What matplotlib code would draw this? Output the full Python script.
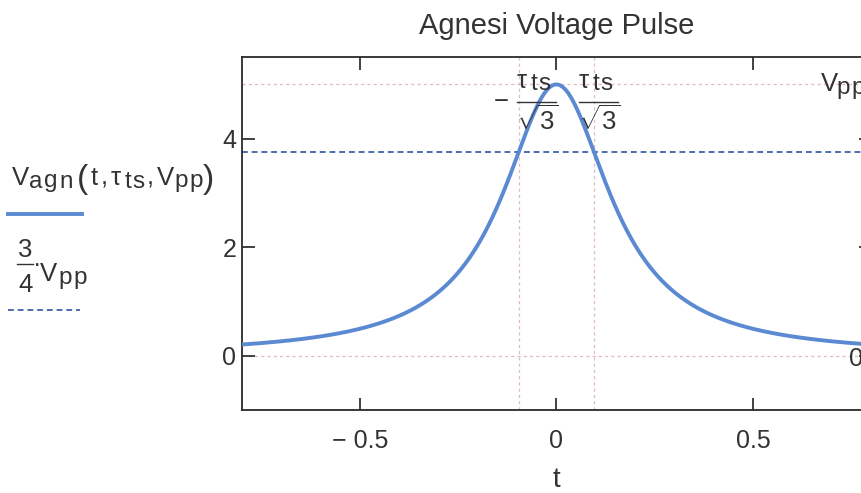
import numpy as np
import matplotlib
matplotlib.use("Agg")
import matplotlib.pyplot as plt
from matplotlib.lines import Line2D

plt.rcParams["font.family"] = ["Liberation Sans", "DejaVu Sans"]
plt.rcParams["mathtext.fontset"] = "custom"
plt.rcParams["mathtext.rm"] = "Liberation Sans"
plt.rcParams["mathtext.it"] = "Liberation Sans"
plt.rcParams["mathtext.bf"] = "Liberation Sans:bold"
plt.rcParams["mathtext.sf"] = "Liberation Sans"

# Pulse parameters
V_pp = 5.0
tau_ts = 0.166
t_min, t_max = -0.8, 0.8
y_min, y_max = -1.0, 5.5

x_ticks = [-0.5, 0.0, 0.5]
x_tick_labels = ["\u2212 0.5", "0", "0.5"]
y_ticks = [0, 2, 4]
y_tick_labels = ["0", "2", "4"]

# Agnesi pulse: V_agn(t, tau, Vpp) = Vpp / (1 + (t/tau)^2)
t = np.linspace(t_min, t_max, 801)
v_agn = V_pp / (1.0 + (t / tau_ts) ** 2)
v_level = np.full_like(t, 0.75 * V_pp)
t_mark = tau_ts / np.sqrt(3.0)

TEXT = "#333333"
CURVE = "#5b8ad2"
LEVEL = "#4c6cb0"
MARK = "#dfbcc0"
MAIN = 18.5   # main text size
SUB = 17.5    # subscript size

W, H = 861, 493
fig = plt.figure(figsize=(W / 100, H / 100), dpi=100)
fig.patch.set_facecolor("white")
renderer = fig.canvas.get_renderer()

ax = fig.add_axes([241.7 / W, 1 - 410 / H, (871 - 241.7) / W, (410 - 57.3) / H])
ax.set_xlim(t_min, t_max)
ax.set_ylim(y_min, y_max)

# marker lines
for yv in (V_pp, 0.0):
    ax.axhline(yv, color=MARK, lw=0.9, ls=(0, (2.5, 2.5)), zorder=1)
for xv in (-t_mark, t_mark):
    ax.axvline(xv, color=MARK, lw=0.9, ls=(0, (2.5, 2.5)), zorder=1)

ax.plot(t, v_level, color=LEVEL, lw=1.4, ls=(0, (3, 2)), zorder=2)
ax.plot(t, v_agn, color=CURVE, lw=2.8, solid_capstyle="butt", zorder=3)

ax.set_xticks(x_ticks)
ax.set_xticklabels(x_tick_labels)
ax.set_yticks(y_ticks)
ax.set_yticklabels(y_tick_labels)
ax.tick_params(axis="both", direction="in", length=9, width=1.3, colors=TEXT,
               labelsize=18, top=True, right=True)
ax.tick_params(axis="x", pad=13.5)
ax.tick_params(axis="y", pad=4)
for s in ax.spines.values():
    s.set_color("#2a2a2a")
    s.set_linewidth(1.3)

ax.set_title("Agnesi Voltage Pulse", fontsize=21, color=TEXT, pad=16.5)
ax.set_xlabel("t", fontsize=20, color=TEXT, labelpad=10)


# --- text helpers working in pixel units measured from the top-left corner ---
def fxy(x, y):
    return x / W, 1 - y / H


def run(x, y, s, size, track=0.0, **kw):
    """Draw a string character by character with extra letter spacing."""
    for ch in s:
        txt = fig.text(*fxy(x, y), ch, fontsize=size, ha="left", va="baseline",
                       color=TEXT, **kw)
        x += txt.get_window_extent(renderer).width + track
    return x


def hbar(x0, x1, y, lw=1.0, color=TEXT, ls="-"):
    fig.add_artist(Line2D([x0 / W, x1 / W], [1 - y / H] * 2, color=color, lw=lw,
                          ls=ls, transform=fig.transFigure))


def data_px(x, y):
    dx, dy = ax.transData.transform((x, y))
    return dx, H - dy


# --- legend on the left ---
run(11.5, 185, "V", MAIN)
run(29, 187.5, "agn", SUB, track=1.8)
run(76.5, 188, "(", 24)
run(91, 185, "t", MAIN)
run(100.5, 185, ",", MAIN)
run(111, 185, "\u03c4", MAIN)
run(125, 187.5, "ts", SUB, track=1.0)
run(147, 185, ",", MAIN)
run(157, 185, "V", MAIN)
run(174.5, 187.5, "pp", SUB, track=1.5)
run(203, 188, ")", 24)
hbar(8, 82, 214, lw=2.8, color=CURVE)

run(18, 257, "3", MAIN)
hbar(17, 33, 264, lw=1.0)
run(18, 292, "4", MAIN)
run(32.5, 272.5, "\u00b7", MAIN)
run(40, 281, "V", MAIN)
run(58, 284, "pp", SUB, track=2)
hbar(8, 80, 310, lw=1.4, color=LEVEL, ls=(0, (3, 2)))

# --- marker labels ---
_, y_top = data_px(0.0, V_pp)
_, y_zero = data_px(0.0, 0.0)
for sign in (-1, 1):
    xm, _ = data_px(sign * t_mark, V_pp)
    x0 = xm - 2 if sign < 0 else xm - 15
    if sign < 0:
        run(x0 - 23, y_top + 25, "\u2212", MAIN)
    run(x0, y_top + 4, "\u03c4", MAIN)
    run(x0 + 14, y_top + 6, "ts", SUB, track=0.5)
    hbar(x0, x0 + 39, y_top + 18, lw=1.0)
    fig.text(*fxy(x0 - 1, y_top + 46), r"$\sqrt{3}$", fontsize=MAIN, ha="left",
             va="baseline", color=TEXT)

xv, _ = data_px(0.672, V_pp)
run(xv, y_top + 7, "V", MAIN)
run(xv + 16, y_top + 10, "pp", SUB, track=1.5)
xz, _ = data_px(0.743, 0.0)
run(xz, y_zero + 10, "0", MAIN)

fig.savefig("out.png", dpi=100, facecolor="white")
